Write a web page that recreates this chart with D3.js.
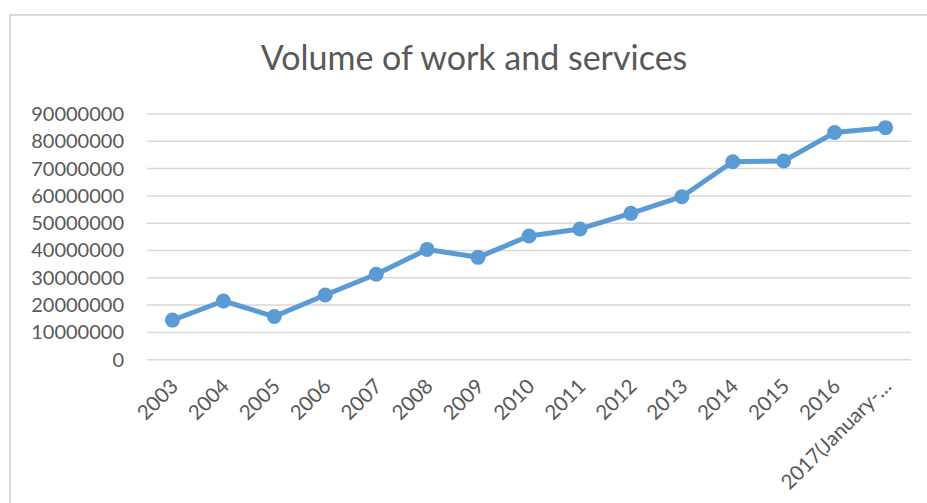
<!DOCTYPE html>
<html>
<head>
<meta charset="utf-8">
<script src="https://cdn.jsdelivr.net/npm/d3@7"></script>
<style>
  html, body { margin: 0; padding: 0; background: #ffffff; }
  svg { display: block; }
  text { font-family: Lato, "Open Sans", sans-serif; fill: #595959; }
</style>
</head>
<body>
<svg id="chart" width="927" height="503"></svg>
<script>
// Annual volume of work and services
const categories = ["2003", "2004", "2005", "2006", "2007", "2008", "2009", "2010",
                    "2011", "2012", "2013", "2014", "2015", "2016", "2017(January-…"];
const volumes = [14500000, 21500000, 15800000, 23700000, 31300000, 40400000, 37500000,
                 45300000, 47900000, 53600000, 59700000, 72500000, 72800000, 83200000, 85000000];
const yTicks = [0, 10000000, 20000000, 30000000, 40000000, 50000000, 60000000,
                70000000, 80000000, 90000000];
const chartTitle = "Volume of work and services";

const svg = d3.select("#chart");
const W = 927, H = 503;
const plot = { left: 147, right: 911, top: 114, bottom: 359.7 };

// outer chart frame (runs off the right and bottom edges)
svg.append("rect")
  .attr("x", 10).attr("y", 15)
  .attr("width", W).attr("height", H)
  .attr("fill", "#ffffff")
  .attr("stroke", "#d9d9d9")
  .attr("stroke-width", 2);

svg.append("text")
  .attr("x", 474).attr("y", 70)
  .attr("text-anchor", "middle")
  .style("font-size", "34px")
  .text(chartTitle);

const x = d3.scaleBand().domain(categories).range([plot.left, plot.right]);
const y = d3.scaleLinear().domain([0, 90000000]).range([plot.bottom, plot.top]);

// horizontal gridlines
svg.append("g")
  .selectAll("line")
  .data(yTicks)
  .join("line")
  .attr("x1", plot.left).attr("x2", plot.right)
  .attr("y1", d => y(d)).attr("y2", d => y(d))
  .attr("stroke", "#d9d9d9")
  .attr("stroke-width", 1.5);

// y axis labels
const yAxis = svg.append("g")
  .attr("transform", `translate(${plot.left},0)`)
  .call(d3.axisLeft(y).tickValues(yTicks).tickFormat(d3.format("d")).tickSize(0).tickPadding(23));
yAxis.select(".domain").remove();
yAxis.selectAll("text")
  .style("font-family", "Lato, 'Open Sans', sans-serif")
  .style("font-size", "20px")
  .attr("fill", "#595959");

// x axis labels, rotated
const xAxis = svg.append("g")
  .attr("transform", `translate(0,${plot.bottom})`)
  .call(d3.axisBottom(x).tickSize(0).tickPadding(0));
xAxis.select(".domain").remove();
xAxis.selectAll("text")
  .style("font-family", "Lato, 'Open Sans', sans-serif")
  .style("font-size", "20.5px")
  .attr("fill", "#595959")
  .attr("text-anchor", "end")
  .attr("dy", null)
  .attr("y", 0)
  .attr("transform", "translate(7,28) rotate(-45)");

// series line and markers
const cx = d => x(d) + x.bandwidth() / 2;
const pts = categories.map((c, i) => [cx(c), y(volumes[i])]);

svg.append("path")
  .attr("d", d3.line()(pts))
  .attr("fill", "none")
  .attr("stroke", "#5b9bd5")
  .attr("stroke-width", 5)
  .attr("stroke-linejoin", "round");

svg.append("g")
  .selectAll("circle")
  .data(pts)
  .join("circle")
  .attr("cx", d => d[0]).attr("cy", d => d[1])
  .attr("r", 7.5)
  .attr("fill", "#5b9bd5");
</script>
</body>
</html>
